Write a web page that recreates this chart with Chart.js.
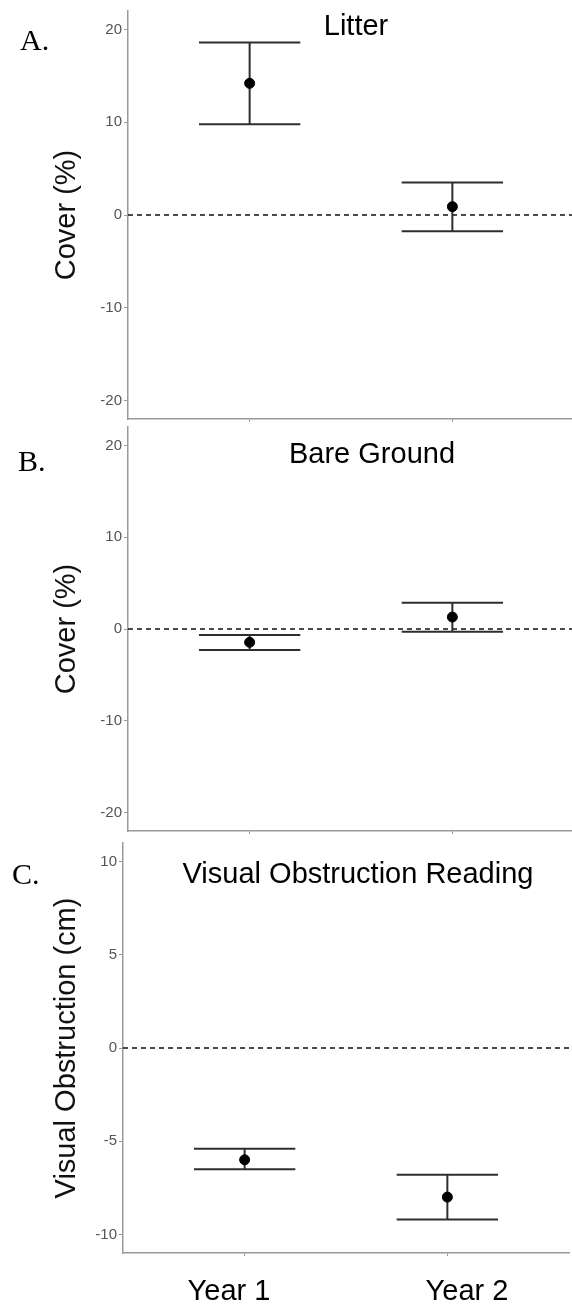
<!DOCTYPE html>
<html>
<head>
<meta charset="utf-8">
<script src="https://cdn.jsdelivr.net/npm/chart.js@4"></script>
<style>
  html, body { margin: 0; padding: 0; background: #fff; overflow: hidden; }
  body { width: 572px; height: 1305px; position: relative; }
  canvas { position: absolute; left: 0; }
</style>
</head>
<body>
<canvas id="chartA" width="580" height="430" style="top:0px"></canvas>
<canvas id="chartB" width="580" height="426" style="top:416px"></canvas>
<canvas id="chartC" width="575" height="473" style="top:832px"></canvas>
<script>
// categories
const categories = ["Year 1", "Year 2"];

// A. Litter cover (%)
const litterMean = [14.2, 0.9];
const litterLower = [9.8, -1.75];
const litterUpper = [18.6, 3.5];

// B. Bare ground cover (%)
const bareMean = [-1.45, 1.3];
const bareLower = [-2.3, -0.3];
const bareUpper = [-0.65, 2.85];

// C. Visual obstruction reading (cm)
const vorMean = [-6.0, -8.0];
const vorLower = [-6.5, -9.2];
const vorUpper = [-5.4, -6.8];

// tick labels
const coverTicks = [-20, -10, 0, 10, 20];
const vorTicks = [-10, -5, 0, 5, 10];

const axisGray = "#9a9a9a";
const barColor = "#2e2e2e";
const capHalf = 0.25;

// draws free text (panel titles, letters, x labels) on the canvas
const panelText = {
  id: "panelText",
  afterDraw(chart, args, opts) {
    const ctx = chart.ctx;
    (opts.items || []).forEach(t => {
      ctx.save();
      ctx.font = t.font;
      ctx.fillStyle = t.color || "#000";
      ctx.textAlign = t.align || "left";
      ctx.textBaseline = "alphabetic";
      ctx.fillText(t.text, t.x, t.y);
      ctx.restore();
    });
  }
};

function lineSet(data, extra) {
  return Object.assign({
    data: data,
    showLine: true,
    borderColor: barColor,
    borderWidth: 2,
    pointRadius: 0,
    pointHoverRadius: 0,
    fill: false
  }, extra || {});
}

function makeDatasets(mean, lower, upper) {
  const sets = [];
  // points on top
  sets.push({
    data: mean.map((v, i) => ({ x: i + 1, y: v })),
    pointRadius: 5,
    pointBackgroundColor: "#000",
    pointBorderColor: "#000",
    showLine: false
  });
  categories.forEach((c, i) => {
    const x = i + 1;
    sets.push(lineSet([{ x: x, y: lower[i] }, { x: x, y: upper[i] }]));
    sets.push(lineSet([{ x: x - capHalf, y: upper[i] }, { x: x + capHalf, y: upper[i] }]));
    sets.push(lineSet([{ x: x - capHalf, y: lower[i] }, { x: x + capHalf, y: lower[i] }]));
  });
  // zero reference line
  sets.push(lineSet([{ x: 0.4, y: 0 }, { x: 2.6, y: 0 }], { borderWidth: 1.3, borderDash: [5, 4], borderColor: "#111" }));
  return sets;
}

function makeChart(id, cfg) {
  return new Chart(document.getElementById(id), {
    type: "scatter",
    data: { datasets: makeDatasets(cfg.mean, cfg.lower, cfg.upper) },
    options: {
      responsive: false,
      animation: false,
      events: [],
      layout: { padding: { left: 0, right: 2, top: 10, bottom: 0 } },
      plugins: {
        legend: { display: false },
        tooltip: { enabled: false },
        panelText: { items: cfg.texts }
      },
      scales: {
        x: {
          type: "linear",
          min: 0.4,
          max: 2.6,
          afterBuildTicks: s => { s.ticks = categories.map((c, i) => ({ value: i + 1 })); },
          afterFit: s => { s.height = cfg.xHeight; },
          ticks: { display: false },
          grid: { drawOnChartArea: false, drawTicks: true, tickLength: 3, color: axisGray, lineWidth: 1 },
          border: { display: true, color: axisGray, width: 1.5 }
        },
        y: {
          min: cfg.yMin,
          max: cfg.yMax,
          afterBuildTicks: s => { s.ticks = cfg.ticks.map(v => ({ value: v })); },
          afterFit: s => { s.width = cfg.yWidth; },
          ticks: {
            color: "#555",
            padding: 2,
            font: { family: "Liberation Sans", size: 15 }
          },
          grid: { drawOnChartArea: false, drawTicks: true, tickLength: 4, color: axisGray, lineWidth: 1 },
          border: { display: true, color: axisGray, width: 1.5 },
          title: {
            display: true,
            text: cfg.yTitle,
            color: "#111",
            padding: { top: 50, bottom: 0 },
            font: { family: "Liberation Sans", size: 29, weight: "normal" }
          }
        }
      }
    },
    plugins: [panelText]
  });
}

const titleFont = '29px "Liberation Sans"';
const letterFont = '30px "Liberation Serif"';

makeChart("chartA", {
  mean: litterMean, lower: litterLower, upper: litterUpper,
  ticks: coverTicks, yMin: -22, yMax: 22, yWidth: 128, xHeight: 7,
  yTitle: "Cover (%)",
  texts: [
    { text: "Litter", x: 356, y: 35, font: titleFont, align: "center" },
    { text: "A.", x: 20, y: 50, font: letterFont }
  ]
});

makeChart("chartB", {
  mean: bareMean, lower: bareLower, upper: bareUpper,
  ticks: coverTicks, yMin: -22, yMax: 22, yWidth: 128, xHeight: 7,
  yTitle: "Cover (%)",
  texts: [
    { text: "Bare Ground", x: 372, y: 47, font: titleFont, align: "center" },
    { text: "B.", x: 18, y: 55, font: letterFont }
  ]
});

makeChart("chartC", {
  mean: vorMean, lower: vorLower, upper: vorUpper,
  ticks: vorTicks, yMin: -11, yMax: 11, yWidth: 123, xHeight: 52,
  yTitle: "Visual Obstruction (cm)",
  texts: [
    { text: "Visual Obstruction Reading", x: 358, y: 51, font: titleFont, align: "center" },
    { text: "C.", x: 12, y: 52, font: letterFont },
    { text: categories[0], x: 229, y: 468, font: titleFont, align: "center" },
    { text: categories[1], x: 467, y: 468, font: titleFont, align: "center" }
  ]
});
</script>
</body>
</html>
